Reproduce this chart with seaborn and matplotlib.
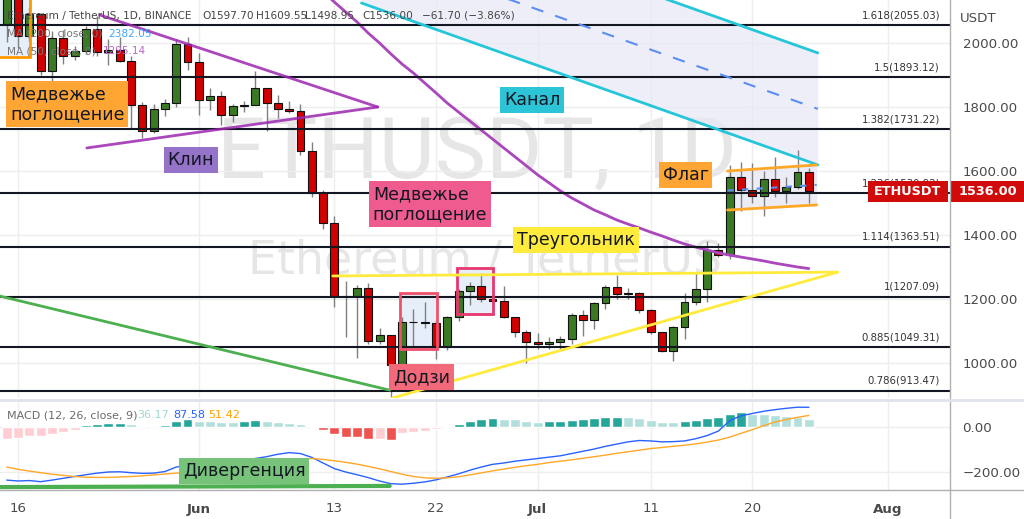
import matplotlib
matplotlib.use("Agg")
import matplotlib.pyplot as plt
import matplotlib.patches as mpatches
from matplotlib.transforms import blended_transform_factory
import numpy as np
import pandas as pd
import seaborn as sns

# daily candles ETH/USDT, 15 May - 25 Jul 2022
dates = pd.date_range("2022-05-15", "2022-07-25", freq="D")
opens = [2060, 2146, 2023, 2090, 1912, 2017, 1960, 1975, 2043, 1971, 1978, 1945, 1805, 1725, 1793, 1811, 1996,
         1942, 1823, 1834, 1775, 1804, 1806, 1859, 1813, 1793, 1789, 1662, 1530, 1437, 1208, 1210, 1235, 1068, 1086,
         994, 1128, 1127, 1125, 1051, 1144, 1225, 1242, 1199, 1193, 1143, 1098,
         1067, 1060, 1067, 1074, 1150, 1134, 1187, 1238, 1216, 1218, 1167, 1097, 1038, 1113, 1192, 1232, 1354, 1339,
         1581, 1542, 1521, 1576, 1537, 1551, 1597.70]
highs = [2150, 2147, 2112, 2095, 2038, 2041, 1992, 2054, 2085, 2012, 2019, 1960, 1815, 1810, 1825, 2013, 2020,
         1970, 1858, 1850, 1810, 1818, 1913, 1860, 1837, 1818, 1810, 1690, 1540, 1460, 1255, 1245, 1250, 1110, 1088,
         1145, 1168, 1190, 1135, 1146, 1230, 1253, 1280, 1235, 1240, 1145, 1103,
         1095, 1082, 1085, 1155, 1165, 1192, 1243, 1275, 1235, 1222, 1168, 1098, 1115, 1220, 1280, 1380, 1375, 1620,
         1628, 1625, 1600, 1645, 1580, 1666, 1609.55]
lows = [2004, 1983, 2005, 1900, 1877, 1935, 1946, 1967, 1960, 1930, 1940, 1733, 1703, 1718, 1773, 1800, 1915,
        1775, 1790, 1745, 1754, 1785, 1805, 1724, 1765, 1780, 1650, 1520, 1420, 1175, 1081, 1017, 1060, 1060, 881,
        958, 1050, 1108, 1012, 1040, 1130, 1180, 1190, 1170, 1140, 1080, 1000,
        1045, 1045, 1040, 1058, 1085, 1105, 1170, 1200, 1200, 1155, 1090, 1035, 1007, 1075, 1180, 1190, 1330, 1325,
        1475, 1500, 1460, 1520, 1500, 1545, 1498.95]
closes = [2146, 2023, 2090, 1912, 2017, 1960, 1975, 2043, 1971, 1978, 1945, 1805, 1725, 1793, 1811, 1996, 1942,
          1823, 1834, 1775, 1804, 1806, 1859, 1813, 1793, 1789, 1662, 1530, 1437, 1208, 1210, 1235, 1068, 1086, 994,
          1128, 1127, 1125, 1051, 1144, 1225, 1242, 1199, 1193, 1143, 1098, 1067,
          1060, 1067, 1074, 1150, 1134, 1187, 1238, 1216, 1218, 1167, 1097, 1038, 1113, 1192, 1232, 1354, 1339, 1581,
          1542, 1521, 1576, 1537, 1551, 1597, 1536.00]

# MA(50) from 12 Jun onwards (earlier values are above the visible range)
ma_dates = pd.date_range("2022-06-12", "2022-07-25", freq="D")
ma50 = [2160, 2128, 2097, 2066, 2031, 2000, 1966, 1934, 1906, 1875, 1844, 1812, 1784, 1756, 1728, 1700, 1672,
        1644, 1616, 1588, 1563, 1538, 1516, 1497, 1478, 1463, 1447, 1434, 1422, 1409, 1397, 1384, 1372, 1362,
        1353, 1344, 1337, 1331, 1325, 1319, 1312, 1306, 1300, 1295.14]

# MACD (12, 26, close, 9)
macd = [-236, -240, -238, -243, -236, -228, -220, -212, -205, -200, -199, -203, -206, -205, -198, -178, -170,
        -168, -160, -155, -151, -146, -140, -132, -121, -114, -118, -135, -160, -185, -200, -212, -225, -240, -252,
        -254, -250, -244, -235, -222, -208, -192, -178, -166, -160, -152, -146,
        -140, -134, -128, -118, -108, -98, -86, -76, -66, -60, -62, -66, -65, -62, -52, -38, -18, 28,
        50, 60, 70, 77, 83, 88, 87.58]
signal = [-178, -188, -196, -203, -210, -215, -220, -223, -224, -224, -222, -220, -217, -213, -209, -205, -201,
          -197, -193, -189, -184, -178, -170, -162, -154, -147, -142, -140, -144, -150, -157, -165, -175, -186, -198,
          -210, -220, -226, -228, -226, -221, -213, -204, -195, -187, -179, -172,
          -166, -158, -152, -146, -139, -132, -125, -117, -110, -103, -96, -91, -86, -81, -75, -67, -58, -45,
          -28, -12, 6, 22, 33, 43, 51.42]
hist = [-55, -48, -42, -38, -30, -22, -12, 7, 13, 18, 19, 13, 4, 6, 10, 28, 34,
        28, 25, 23, 21, 27, 31, 28, 24, 20, 14, 4, -13, -33, -43, -45, -53, -52, -56,
        -28, -20, -18, -10, 3, 15, 28, 34, 38, 35, 34, 28,
        24, 25, 27, 31, 36, 40, 44, 45, 44, 40, 31, 22, 21, 27, 31, 40, 44, 58,
        67, 58, 56, 52, 50, 45, 36.17]

fib_ratios = ["1.618", "1.5", "1.382", "1.236", "1.114", "1", "0.885", "0.786"]
fib_levels = [2055.03, 1893.12, 1731.22, 1530.92, 1363.51, 1207.09, 1049.31, 913.47]

tick_dates = ["2022-05-16", "2022-06-01", "2022-06-13", "2022-06-22", "2022-07-01", "2022-07-11", "2022-07-20", "2022-08-01"]
tick_labels = ["16", "Jun", "13", "22", "Jul", "11", "20", "Aug"]

ref = pd.Timestamp("2022-06-01")
days = np.array((dates - ref).days, dtype=float)
ma_days = np.array((ma_dates - ref).days, dtype=float)
tick_days = [(pd.Timestamp(t) - ref).days for t in tick_dates]

sns.set_style("white")
plt.rcParams['font.family'] = ['DejaVu Sans']

W, H = 1024, 519
fig = plt.figure(figsize=(W / 100, H / 100), dpi=100)
ax = fig.add_axes([0, 1 - 398 / H, 950 / W, 398 / H])
axm = fig.add_axes([0, 1 - 490 / H, 950 / W, 90 / H])

xlim = (-17.6, 66.5)
GREEN, RED = '#3b7a24', '#d00000'
for a in (ax, axm):
    a.set_xlim(*xlim)
    a.set_xticks(tick_days)
    a.grid(axis='x', color='#eeeeee', lw=1)
    for s in a.spines.values():
        s.set_visible(False)
    a.set_facecolor('white')

ax.set_ylim(890.6, 2134.4)
axm.set_ylim(-280, 120)

# watermark
ax.text(0.502, 0.612, "ETHUSDT, 1D", transform=ax.transAxes, ha='center', va='center',
        fontsize=62, color='#e6e6e6', family=['Roboto', 'DejaVu Sans'], zorder=0)
ax.text(0.51, 0.342, "Ethereum / TetherUS", transform=ax.transAxes, ha='center', va='center',
        fontsize=33, color='#e6e6e6', zorder=0)

# legend text (sits under the candles)
def ftext(px, py, s, color='#444444', size=7.6, **kw):
    fig.text(px / W, 1 - py / H, s, color=color, fontsize=size, va='center', ha='left', **kw)

ftext(7, 16, "Ethereum / TetherUS, 1D, BINANCE", zorder=1)
ftext(202, 16, "O1597.70", zorder=1)
ftext(256, 16, "H1609.55", zorder=1)
ftext(305, 16, "L1498.95", zorder=1)
ftext(362, 16, "C1536.00", zorder=1)
ftext(422, 16, "\u221261.70 (\u22123.86%)", zorder=1)
ftext(7, 34, "MA (200, close, 0)", color='#777777', zorder=1)
ftext(108, 34, "2382.05", color='#42a5f5', zorder=1)
ftext(7, 51, "MA (50, close, 0)", color='#777777', zorder=1)
ftext(103, 51, "1295.14", color='#ba68c8', zorder=1)

# price grid
ax.set_yticks([1000, 1200, 1400, 1600, 1800, 2000])
ax.grid(axis='y', color='#eeeeee', lw=1)

# channel (Канал)
ch_x = [14.4, 54.8]
ch_low = [2125, 1619]
ch_up = [2475, 1969]
ax.fill_between(ch_x, ch_low, ch_up, color='#e8e8f6', alpha=0.7, lw=0, zorder=1)
ax.plot(ch_x, ch_low, color='#26c6da', lw=2, zorder=6)
ax.plot(ch_x, ch_up, color='#26c6da', lw=2, zorder=6)
ax.plot(ch_x, [(a + b) / 2 for a, b in zip(ch_low, ch_up)], color='#5b8ef0', lw=1.5, ls=(0, (6, 6)), zorder=6)

# flag (Флаг)
fl_x = [46.8, 54.7]
fl_up = [1600, 1619]
fl_low = [1478, 1494]
ax.fill_between(fl_x, fl_low, fl_up, color='#e8e8f6', alpha=0.8, lw=0, zorder=1)
ax.plot(fl_x, fl_up, color='#ffa726', lw=2, zorder=6)
ax.plot(fl_x, fl_low, color='#ffa726', lw=2, zorder=6)
ax.plot(fl_x, [(a + b) / 2 for a, b in zip(fl_low, fl_up)], color='#5b8ef0', lw=1.5, ls=(0, (3, 4)), zorder=6)

# rectangles
for (x0, x1, y0, y1, ec) in [(17.8, 21.06, 1043.75, 1218.75, '#f0506a'),
                             (22.9, 26.0, 1153, 1297, '#e8376e'),
                             (-19, -14.96, 1956, 2300, '#ff9800')]:
    ax.add_patch(mpatches.Rectangle((x0, y0), x1 - x0, y1 - y0, fc='#e6eefa', ec='none', zorder=1))
    ax.add_patch(mpatches.Rectangle((x0, y0), x1 - x0, y1 - y0, fc='none', ec=ec, lw=2, zorder=6))

# candles
o, h, l, c = map(np.array, (opens, highs, lows, closes))
cols = np.where(c >= o, GREEN, RED)
ax.vlines(days, l, h, color='#808080', lw=1, zorder=3)
ax.bar(days, np.abs(c - o), bottom=np.minimum(o, c), width=0.7, color=cols,
       edgecolor='#111111', linewidth=0.8, zorder=4)

# MA 50
sns.lineplot(x=ma_days, y=ma50, ax=ax, color='#ab47bc', lw=2, zorder=5)

# wedge (Клин)
ax.plot([-8.76, 15.84], [2087.5, 1800], color='#9c27b0', lw=2, alpha=0.85, zorder=6)
ax.plot([-9.91, 15.84], [1672, 1800], color='#9c27b0', lw=2, alpha=0.85, zorder=6)

# triangle (Треугольник)
ax.plot([11.86, 56.55], [1272, 1284], color='#ffeb3b', lw=2, zorder=6)
ax.plot([17.08, 56.55], [890, 1284], color='#ffeb3b', lw=2, zorder=6)

# divergence line on price
ax.plot([-17.6, 16.9], [1209, 915], color='#4caf50', lw=2, zorder=6)

# fibonacci levels
tr = blended_transform_factory(ax.transAxes, ax.transData)
for r, lv in zip(fib_ratios, fib_levels):
    ax.axhline(lv, color='#131722', lw=1.5, zorder=5)
    ax.annotate(f"{r}({lv:.2f})", xy=(0.9895, lv), xycoords=tr, xytext=(0, 3.5),
                textcoords='offset points', ha='right', va='bottom', fontsize=7.3, color='#333333', zorder=7)

# pattern labels
def label(a, x, y, s, fc, ha='center'):
    a.text(x, y, s, ha=ha, va='center', fontsize=12.5, color='#131722', zorder=8, linespacing=1.15,
           bbox=dict(boxstyle='square,pad=0.22', fc=fc, ec='none'))

label(ax, -16.7, 1809, "Медвежье\nпоглощение", '#ffa534', ha='left')
label(ax, -0.7, 1634, "Клин", '#9473c9')
label(ax, 15.4, 1497, "Медвежье\nпоглощение", '#ef5b8f', ha='left')
label(ax, 29.5, 1822, "Канал", '#2cc5d8')
label(ax, 33.4, 1384, "Треугольник", '#ffeb3b')
label(ax, 43.1, 1587, "Флаг", '#ffa534')
label(ax, 19.7, 956, "Додзи", '#f2697a')

# price axis
ax.yaxis.tick_right()
ax.set_yticklabels([f"{v:.2f}" for v in ax.get_yticks()])
ax.tick_params(axis='y', length=0, pad=9, labelsize=9.6, labelcolor='#4a4a4a')
ax.tick_params(axis='x', length=0, labelbottom=False)
ftext(960, 18, "USDT", color='#4a4a4a', size=9.6)

# last price tags
half = 10.5 / 0.32
for x0, x1, s in [(868, 948, "ETHUSDT"), (951, 1024, f"{closes[-1]:.2f}")]:
    ax.add_patch(mpatches.Rectangle((x0 / 950, closes[-1] - half), (x1 - x0) / 950, 2 * half,
                                    transform=tr, fc='#d10a0a', ec='none', zorder=9, clip_on=False))
    ax.text((x0 + x1) / 2 / 950, closes[-1], s, transform=tr, ha='center', va='center', color='white',
            fontsize=9.3, fontweight='bold', zorder=10, clip_on=False)

# MACD panel
hv = np.array(hist)
prev = np.concatenate([[hv[0]], hv[:-1]])
hcols = np.where(hv >= 0, np.where(hv > prev, '#26a69a', '#b2dfdb'),
                 np.where(hv < prev, '#ef5350', '#ffcdd2'))
axm.bar(days, hv, width=0.88, color=hcols, zorder=2)
sns.lineplot(x=days, y=macd, ax=axm, color='#2962ff', lw=1, zorder=3)
sns.lineplot(x=days, y=signal, ax=axm, color='#ffa726', lw=1, zorder=3)
axm.plot([-17.6, 16.9], [-267, -262], color='#4caf50', lw=3, zorder=4)
label(axm, 4.0, -196, "Дивергенция", '#77c37a')

axm.set_yticks([0, -200])
axm.grid(axis='y', color='#eeeeee', lw=1)
axm.yaxis.tick_right()
axm.set_yticklabels(["0.00", "\u2212200.00"])
axm.tick_params(axis='y', length=0, pad=9, labelsize=9.6, labelcolor='#4a4a4a')
axm.set_xticklabels(tick_labels)
axm.tick_params(axis='x', length=0, pad=9, labelsize=9.6, labelcolor='#4a4a4a')
for t in axm.get_xticklabels():
    if t.get_text() in ("Jun", "Jul", "Aug"):
        t.set_fontweight('bold')
axm.set_xlabel("")
axm.set_ylabel("")
ax.set_xlabel("")
ax.set_ylabel("")

ftext(7, 415, "MACD (12, 26, close, 9)", color='#6b6b6b', size=8.0, zorder=5)
ftext(137, 415, "36.17", color='#9fd6cf', size=8.0, zorder=5)
ftext(173, 415, "87.58", color='#2962ff', size=8.0, zorder=5)
ftext(208, 415, "51.42", color='#ffa000', size=8.0, zorder=5)

# frame lines
fig.add_artist(plt.Line2D([950 / W, 950 / W], [0, 1], color='#b0b0b0', lw=1))
fig.add_artist(plt.Line2D([0, 1], [1 - 490 / H, 1 - 490 / H], color='#b0b0b0', lw=1))
fig.add_artist(plt.Line2D([0, 1], [1 - 400 / H, 1 - 400 / H], color='#e0e3eb', lw=2))

fig.savefig("out.png", dpi=100)
